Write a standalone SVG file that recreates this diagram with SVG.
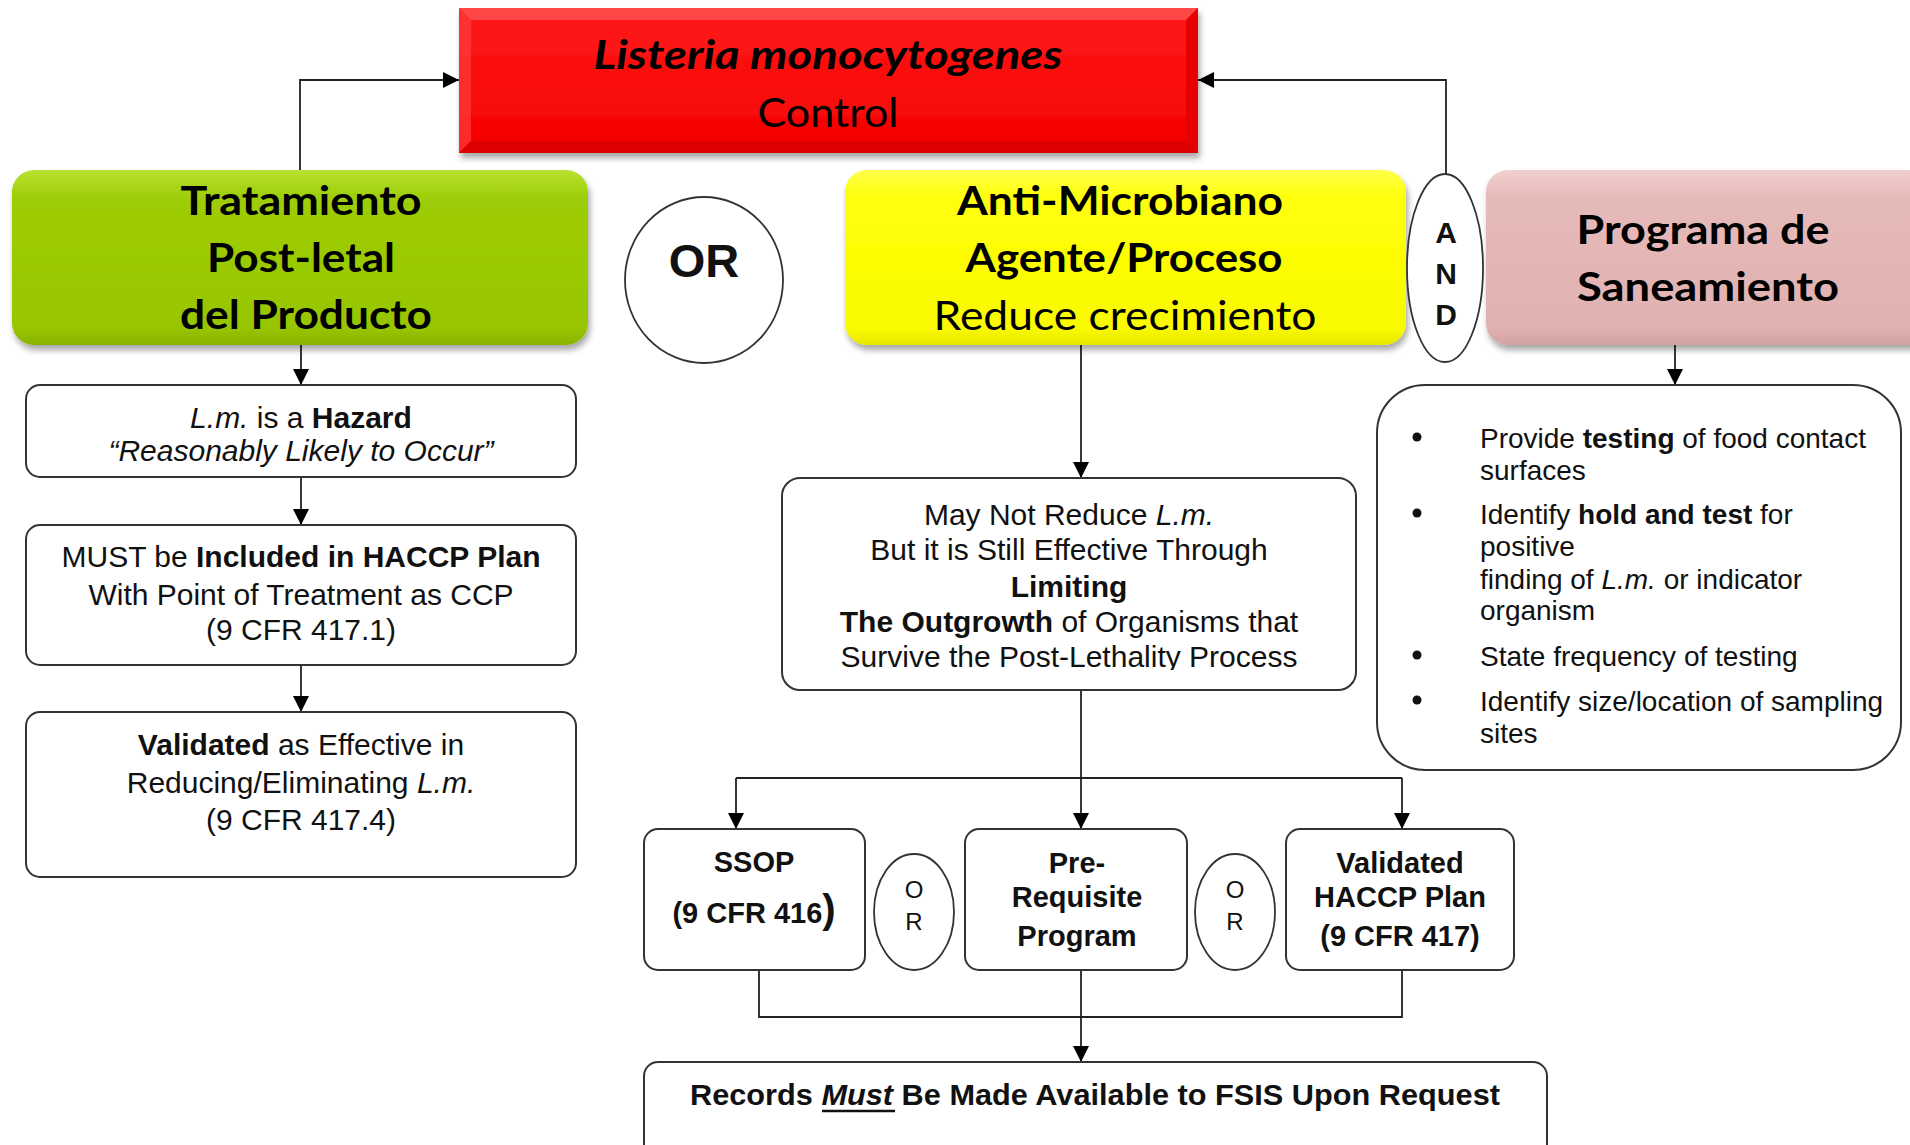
<svg xmlns="http://www.w3.org/2000/svg" width="1910" height="1145" viewBox="0 0 1910 1145">
  <style>
    .hdr { font-family: Lato, "Open Sans", "Liberation Sans", sans-serif; font-size: 41px; font-weight: 700; text-anchor: middle; fill: #000; }
    .reg { font-weight: 400; }
    .box { fill: #fff; stroke: #333; stroke-width: 2; }
    .oval { fill: #fff; stroke: #333; stroke-width: 1.8; }
    .t { font-family: "Liberation Sans", Arial, sans-serif; font-size: 30px; text-anchor: middle; fill: #111; }
    .lst { font-family: "Liberation Sans", Arial, sans-serif; font-size: 28px; fill: #111; }
    .sm { font-family: "Liberation Sans", Arial, sans-serif; font-size: 29px; font-weight: 700; text-anchor: middle; fill: #111; }
    .b { font-weight: 700; }
    .i { font-style: italic; }
    .conn { stroke: #222; stroke-width: 1.8; fill: none; }
    .arr { marker-end: url(#head); }
  </style>
  <defs>
    <marker id="head" markerUnits="userSpaceOnUse" markerWidth="17" markerHeight="16" refX="16" refY="8" orient="auto">
      <path d="M0,0 L16,8 L0,16 Z" fill="#000"/>
    </marker>
    <filter id="sh" x="-5%" y="-10%" width="110%" height="130%">
      <feDropShadow dx="2" dy="5" stdDeviation="3" flood-color="#000" flood-opacity="0.35"/>
    </filter>
    <linearGradient id="gRed" x1="0" y1="0" x2="0" y2="1">
      <stop offset="0" stop-color="#ff1a1a"/>
      <stop offset="1" stop-color="#f40000"/>
    </linearGradient>
    <linearGradient id="gGreen" x1="0" y1="0" x2="0" y2="1">
      <stop offset="0" stop-color="#b8e232"/>
      <stop offset="0.16" stop-color="#9dcd07"/>
      <stop offset="0.9" stop-color="#97c600"/>
      <stop offset="1" stop-color="#88b400"/>
    </linearGradient>
    <linearGradient id="gYellow" x1="0" y1="0" x2="0" y2="1">
      <stop offset="0" stop-color="#ffff4a"/>
      <stop offset="0.16" stop-color="#ffff0a"/>
      <stop offset="0.9" stop-color="#fafa00"/>
      <stop offset="1" stop-color="#e8e800"/>
    </linearGradient>
    <linearGradient id="gPink" x1="0" y1="0" x2="0" y2="1">
      <stop offset="0" stop-color="#f0d0cf"/>
      <stop offset="0.16" stop-color="#e6bab9"/>
      <stop offset="0.9" stop-color="#e0b2b1"/>
      <stop offset="1" stop-color="#d3a2a1"/>
    </linearGradient>
    <clipPath id="midClip">
      <rect x="782" y="478" width="574" height="192"/>
    </clipPath>
  </defs>

  <rect width="1910" height="1145" fill="#fff"/>

  <!-- connectors -->
  <g id="connectors">
    <path class="conn arr" d="M300,170 V80 H459"/>
    <path class="conn arr" d="M1446,174 V80 H1198"/>
    <path class="conn arr" d="M301,345 V385"/>
    <path class="conn arr" d="M301,477 V525"/>
    <path class="conn arr" d="M301,665 V712"/>
    <path class="conn arr" d="M1081,345 V478"/>
    <path class="conn arr" d="M1675,345 V385"/>
    <path class="conn arr" d="M1081,690 V829"/>
    <path class="conn" d="M736,778 H1402"/>
    <path class="conn arr" d="M736,778 V829"/>
    <path class="conn arr" d="M1402,778 V829"/>
    <path class="conn" d="M759,970 V1017 H1402 V970"/>
    <path class="conn arr" d="M1081,970 V1062"/>
  </g>

  <!-- top: Listeria monocytogenes control -->
  <g id="node-control">
    <rect x="459" y="8" width="739" height="145" fill="url(#gRed)" filter="url(#sh)"/>
    <polygon points="459,8 1198,8 1186,20 471,20" fill="#ff5252" opacity="0.8"/>
    <polygon points="459,8 471,20 471,141 459,153" fill="#ff3c3c" opacity="0.7"/>
    <polygon points="1198,8 1198,153 1186,141 1186,20" fill="#e60000"/>
    <polygon points="459,153 1198,153 1186,141 471,141" fill="#dc0000"/>
    <text class="hdr i" x="828" y="69" textLength="469" lengthAdjust="spacingAndGlyphs">Listeria monocytogenes</text>
    <text class="hdr reg" x="828" y="127" textLength="141" lengthAdjust="spacingAndGlyphs">Control</text>
  </g>

  <!-- post-lethality treatment -->
  <g id="node-tratamiento">
    <rect x="12" y="170" width="576" height="175" rx="22" fill="url(#gGreen)" filter="url(#sh)"/>
    <text class="hdr" x="301" y="215" textLength="241" lengthAdjust="spacingAndGlyphs">Tratamiento</text>
    <text class="hdr" x="301" y="272" textLength="188" lengthAdjust="spacingAndGlyphs">Post-letal</text>
    <text class="hdr" x="306" y="329" textLength="252" lengthAdjust="spacingAndGlyphs">del Producto</text>
  </g>

  <g id="node-or-top">
    <ellipse class="oval" cx="704" cy="280" rx="79" ry="83"/>
    <text x="704" y="277" font-family="'Liberation Sans', Arial, sans-serif" font-size="47" font-weight="700" text-anchor="middle" fill="#111">OR</text>
  </g>

  <!-- antimicrobial agent / process -->
  <g id="node-antimicrobiano">
    <rect x="845" y="170" width="561" height="175" rx="22" fill="url(#gYellow)" filter="url(#sh)"/>
    <text class="hdr" x="1120" y="215" textLength="326" lengthAdjust="spacingAndGlyphs">Anti-Microbiano</text>
    <text class="hdr" x="1124" y="272" textLength="317" lengthAdjust="spacingAndGlyphs">Agente/Proceso</text>
    <text class="hdr reg" x="1125" y="330" textLength="383" lengthAdjust="spacingAndGlyphs">Reduce crecimiento</text>
  </g>

  <!-- sanitation program -->
  <g id="node-saneamiento">
    <rect x="1486" y="170" width="460" height="175" rx="22" fill="url(#gPink)" filter="url(#sh)"/>
    <text class="hdr" x="1703" y="244" textLength="253" lengthAdjust="spacingAndGlyphs">Programa de</text>
    <text class="hdr" x="1708" y="301" textLength="262" lengthAdjust="spacingAndGlyphs">Saneamiento</text>
  </g>

  <g id="node-and">
    <ellipse class="oval" cx="1445" cy="268" rx="38" ry="94"/>
    <g font-family="'Liberation Sans', Arial, sans-serif" font-size="30" font-weight="700" text-anchor="middle" fill="#111">
      <text x="1446" y="243">A</text>
      <text x="1446" y="284">N</text>
      <text x="1446" y="325">D</text>
    </g>
  </g>

  <!-- left column -->
  <g id="node-hazard">
    <rect class="box" x="26" y="385" width="550" height="92" rx="14"/>
    <text class="t" x="301" y="428"><tspan class="i">L.m.</tspan> is a <tspan class="b">Hazard</tspan></text>
    <text class="t i" x="301" y="461">“Reasonably Likely to Occur”</text>
  </g>

  <g id="node-haccp-included">
    <rect class="box" x="26" y="525" width="550" height="140" rx="14"/>
    <text class="t" x="301" y="567">MUST be <tspan class="b">Included in HACCP Plan</tspan></text>
    <text class="t" x="301" y="605">With Point of Treatment as CCP</text>
    <text class="t" x="301" y="640">(9 CFR 417.1)</text>
  </g>

  <g id="node-validated">
    <rect class="box" x="26" y="712" width="550" height="165" rx="14"/>
    <text class="t" x="301" y="755"><tspan class="b">Validated</tspan> as Effective in</text>
    <text class="t" x="301" y="793">Reducing/Eliminating <tspan class="i">L.m.</tspan></text>
    <text class="t" x="301" y="830">(9 CFR 417.4)</text>
  </g>

  <!-- middle column -->
  <g id="node-limiting">
    <rect class="box" x="782" y="478" width="574" height="212" rx="18"/>
    <text class="t" x="1069" y="525">May Not Reduce <tspan class="i">L.m.</tspan></text>
    <text class="t" x="1069" y="560">But it is Still Effective Through</text>
    <text class="t b" x="1069" y="597">Limiting</text>
    <text class="t" x="1069" y="632"><tspan class="b">The Outgrowth</tspan> of Organisms that</text>
    <text class="t" x="1069" y="667" clip-path="url(#midClip)">Survive the Post-Lethality Process</text>
  </g>

  <g id="node-ssop">
    <rect class="box" x="644" y="829" width="221" height="141" rx="14"/>
    <text class="sm" x="754" y="872">SSOP</text>
    <text class="sm" x="754" y="923">(9 CFR 416<tspan font-size="40">)</tspan></text>
  </g>

  <g id="node-or-1">
    <ellipse class="oval" cx="914" cy="912" rx="40" ry="58"/>
    <text x="914" y="898" font-family="'Liberation Sans', Arial, sans-serif" font-size="24" text-anchor="middle" fill="#111">O</text>
    <text x="914" y="930" font-family="'Liberation Sans', Arial, sans-serif" font-size="24" text-anchor="middle" fill="#111">R</text>
  </g>

  <g id="node-prerequisite">
    <rect class="box" x="965" y="829" width="222" height="141" rx="14"/>
    <text class="sm" x="1077" y="873">Pre-</text>
    <text class="sm" x="1077" y="907">Requisite</text>
    <text class="sm" x="1077" y="946">Program</text>
  </g>

  <g id="node-or-2">
    <ellipse class="oval" cx="1235" cy="912" rx="40" ry="58"/>
    <text x="1235" y="898" font-family="'Liberation Sans', Arial, sans-serif" font-size="24" text-anchor="middle" fill="#111">O</text>
    <text x="1235" y="930" font-family="'Liberation Sans', Arial, sans-serif" font-size="24" text-anchor="middle" fill="#111">R</text>
  </g>

  <g id="node-validated-haccp">
    <rect class="box" x="1286" y="829" width="228" height="141" rx="14"/>
    <text class="sm" x="1400" y="873">Validated</text>
    <text class="sm" x="1400" y="907">HACCP Plan</text>
    <text class="sm" x="1400" y="946">(9 CFR 417)</text>
  </g>

  <g id="node-records">
    <rect class="box" x="644" y="1062" width="903" height="110" rx="14"/>
    <text class="sm" x="1095" y="1105" textLength="810" lengthAdjust="spacingAndGlyphs">Records <tspan class="i">Must</tspan> Be Made Available to FSIS Upon Request</text>
    <line x1="822" y1="1111" x2="895" y2="1111" stroke="#111" stroke-width="2.5"/>
  </g>

  <!-- sanitation requirements -->
  <g id="node-sanitation-list">
    <rect class="box" x="1377" y="385" width="524" height="385" rx="48"/>
    <g fill="#111">
      <circle cx="1417" cy="437" r="4.5"/>
      <circle cx="1417" cy="513" r="4.5"/>
      <circle cx="1417" cy="655" r="4.5"/>
      <circle cx="1417" cy="700" r="4.5"/>
    </g>
    <text class="lst" x="1480" y="448">Provide <tspan class="b">testing</tspan> of food contact</text>
    <text class="lst" x="1480" y="480">surfaces</text>
    <text class="lst" x="1480" y="524">Identify <tspan class="b">hold and test</tspan> for</text>
    <text class="lst" x="1480" y="556">positive</text>
    <text class="lst" x="1480" y="589">finding of <tspan class="i">L.m.</tspan> or indicator</text>
    <text class="lst" x="1480" y="620">organism</text>
    <text class="lst" x="1480" y="666">State frequency of testing</text>
    <text class="lst" x="1480" y="711">Identify size/location of sampling</text>
    <text class="lst" x="1480" y="743">sites</text>
  </g>
</svg>
